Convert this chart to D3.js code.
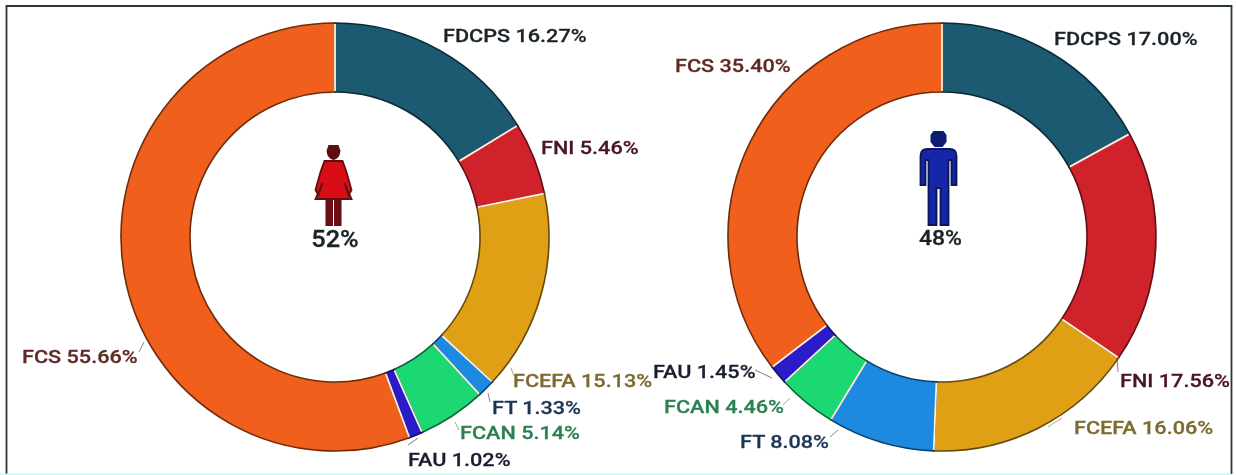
<!DOCTYPE html>
<html><head><meta charset="utf-8">
<script src="https://cdn.jsdelivr.net/npm/d3@7"></script>
<style>
html,body{margin:0;padding:0;background:#fff}
svg{display:block}
text{font-family:Roboto,sans-serif;font-weight:500}
</style></head><body>
<svg id="c" width="1236" height="475"></svg>
<script>
const categories = ["FDCPS","FNI","FCEFA","FT","FCAN","FAU","FCS"];
const femaleValues = [16.27,5.46,15.13,1.33,5.14,1.02,55.66];
const maleValues = [17.00,17.56,16.06,8.08,4.46,1.45,35.40];
const sliceColors = ["#1a5a72","#cf2029","#e0a018","#1c8ae0","#1fd873","#2a1cc8","#f0601a"];
const labelColors = ["#1a2228","#4a1420","#7c6a30","#1c3454","#2a8052","#1a1e30","#5e2a22"];
const femaleTotal = "52%";
const maleTotal = "48%";

// label placement: [x, baseline y, leader x1, y1, x2, y2]
const femaleLabels = [
 [443,41.5],
 [541,154],
 [513,387,511,368,514,376],
 [492,414,488,393,490,402],
 [460,439,455,422,459,430],
 [408,465.5,418,438,408,445],
 [22,362.5,144,342,139,352]
];
const maleLabels = [
 [1054,44.5],
 [1120,387,1117,358,1118,372],
 [1074,433.5,1048,427,1062,418],
 [740,447.5,830,437,838,430],
 [664,412.5,783,405,790,398],
 [653,377.5,755,370,772,378],
 [675,71.5]
];

const svg = d3.select("#c");
const defs = svg.append("defs");
defs.append("filter").attr("id","soft").append("feGaussianBlur").attr("stdDeviation",0.4);

svg.append("path").attr("d","M6.5 474V6H1231.5V474").attr("fill","none").attr("stroke","#27363f").attr("stroke-width",1.8);
svg.append("line").attr("x1",0).attr("x2",1231).attr("y1",474.5).attr("y2",474.5).attr("stroke","#c8f8f4").attr("stroke-width",2);

const inner = 145, outer = 214;
const pie = d3.pie().sort(null).value(d=>d);
const arc = d3.arc().innerRadius(inner).outerRadius(outer);
const root = svg.append("g").attr("filter","url(#soft)");

function donut(cx,cy,values,labels){
  const g = root.append("g").attr("transform",`translate(${cx},${cy})`);
  const pies = pie(values);
  g.selectAll("path").data(pies).join("path")
    .attr("d",arc).attr("fill",(d,i)=>sliceColors[i])
    .attr("stroke",(d,i)=>d3.color(sliceColors[i]).darker(2.2)).attr("stroke-width",1.6);
  g.selectAll("line.seam").data(pies).join("line").attr("class","seam")
    .attr("x1",d=>(inner+1)*Math.sin(d.startAngle)).attr("y1",d=>-(inner+1)*Math.cos(d.startAngle))
    .attr("x2",d=>(outer-1)*Math.sin(d.startAngle)).attr("y2",d=>-(outer-1)*Math.cos(d.startAngle))
    .attr("stroke","#fdf2e4").attr("stroke-width",1.8);
  labels.forEach((l,i)=>{
    if(l.length>2){
      root.append("path").attr("d",d3.line()([[l[2],l[3]],[l[4],l[5]]]))
        .attr("fill","none").attr("stroke",labelColors[i]).attr("stroke-width",.9).attr("opacity",.65);
    }
    root.append("text").attr("transform",`translate(${l[0]},${l[1]}) scale(1.14,1)`)
      .attr("font-size",19).attr("fill",labelColors[i])
      .attr("stroke",labelColors[i]).attr("stroke-width",.25)
      .text(`${categories[i]} ${values[i].toFixed(2)}%`);
  });
}
donut(335,237,femaleValues,femaleLabels);
donut(942,237,maleValues,maleLabels);

// female icon
const f = root.append("g").attr("transform","translate(333.5,0)");
f.append("path").attr("d","M-5 145H5L7 151Q6 159 0 160Q-6 159 -7 151Z").attr("fill","#5e0a10");
f.append("path").attr("d","M-9 161H9L13 172L18 190L15 195L11 183L18 199H-18L-11 183L-15 195L-18 190L-13 172Z")
  .attr("fill","#d90f18").attr("stroke","#5e0a10").attr("stroke-width",1.8);
f.append("rect").attr("x",-8).attr("y",200).attr("width",7.5).attr("height",26).attr("fill","#6b0a12");
f.append("rect").attr("x",.5).attr("y",200).attr("width",7.5).attr("height",26).attr("fill","#6b0a12");
root.append("text").attr("transform","translate(335,247) scale(1.1,1)").attr("text-anchor","middle").attr("font-size",23).attr("fill","#1a2228").attr("stroke","#1a2228").attr("stroke-width",.3).text(femaleTotal);

// male icon
const m = root.append("g").attr("transform","translate(938.5,0)");
m.append("path").attr("d","M-5 131H5L8 135V142L4 147H-4L-8 142V135Z").attr("fill","#0a1a6e");
m.append("path").attr("d","M-11 149H11Q18 149 18 156V185H13V160H10V225H2V188H-2V225H-10V160H-13V185H-18V156Q-18 149 -11 149Z")
  .attr("fill","#1428a8").attr("stroke","#0a1458").attr("stroke-width",1.8);
root.append("text").attr("transform","translate(940.5,245) scale(1.15,1)").attr("text-anchor","middle").attr("font-size",20).attr("fill","#1a2228").attr("stroke","#1a2228").attr("stroke-width",.3).text(maleTotal);
</script></body></html>
